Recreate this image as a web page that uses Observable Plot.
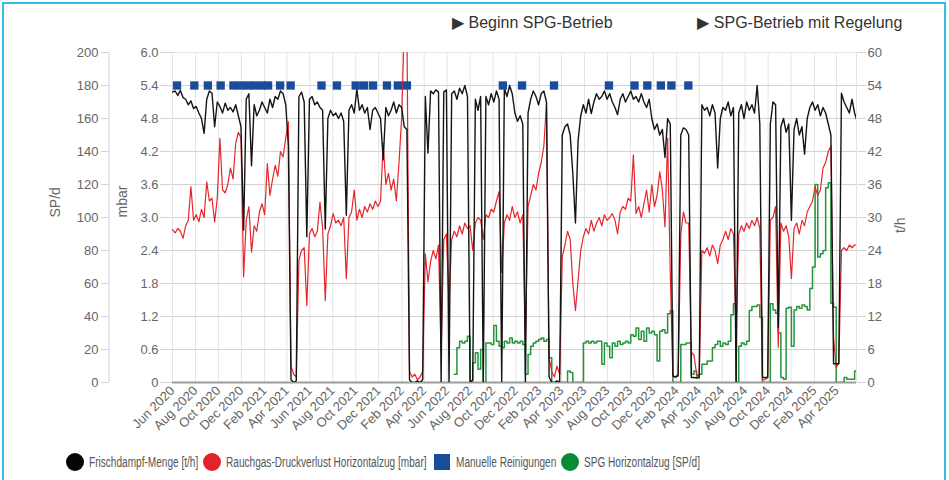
<!DOCTYPE html>
<html>
<head>
<meta charset="utf-8">
<script src="https://cdn.jsdelivr.net/npm/d3@7"></script>
<script src="https://cdn.jsdelivr.net/npm/@observablehq/plot@0.6"></script>
<style>
  html,body{margin:0;padding:0;background:#fff;}
  #wrap{position:relative;width:949px;height:480px;overflow:hidden;background:#fff;}
  #border{position:absolute;left:2px;top:2px;width:944px;height:540px;border:2px solid #36bde6;box-sizing:border-box;}
  #chart{position:absolute;left:0;top:0;}
  #legend{position:absolute;left:66px;top:452px;height:20px;display:flex;align-items:center;font-family:"Liberation Sans",Arial,sans-serif;font-size:14px;color:#555;white-space:nowrap;}
  .item{display:flex;align-items:center;margin-right:5px;}
  .sw{width:18px;height:18px;border-radius:50%;margin-right:5px;flex:none;}
  .sw.sq{width:16px;height:16px;border-radius:0;margin-left:2px;margin-right:6px;}
  .lt{display:inline-block;white-space:nowrap;overflow:visible;}
  .li{display:inline-block;transform-origin:0 50%;}
</style>
</head>
<body>
<div id="wrap"><div id="border"></div><div id="chart"></div><div id="legend"></div></div>
<script>
// ---------- data (weekly readings from 2020-06-01) ----------
const startDate = "2020-06-01";
const stepDays = 7;

// Frischdampf-Menge [t/h]
const frischdampf = [
  52.8, 53.0, 52.2, 53.1, 51.8, 51.5, 50.5, 51.2, 49.8, 50.2,
  49.0, 48.0, 45.3, 51.5, 53.0, 52.6, 46.5, 51.0, 50.2, 49.0,
  50.8, 49.5, 50.0, 49.2, 50.5, 48.5, 46.5, 27.7, 51.5, 52.5,
  39.4, 50.5, 48.5, 49.5, 51.0, 50.0, 49.0, 51.5, 50.0, 52.0,
  51.5, 53.0, 52.5, 50.5, 43.0, 0.5, 0, 0.3, 52.0, 52.8,
  51.0, 26.5, 51.5, 52.0, 50.5, 51.0, 50.0, 49.5, 27.9, 48.0,
  49.5, 48.5, 49.0, 48.0, 49.0, 47.5, 30.4, 49.5, 50.5, 49.0,
  53.3, 49.5, 50.5, 49.0, 50.0, 46.0, 49.5, 50.0, 49.0, 48.0,
  40.5, 50.0, 48.5, 49.5, 51.0, 49.0, 50.5, 50.0, 46.5, 46.0,
  0.5, 0, 0, 0.3, 0, 0.5, 52.0, 41.7, 53.0, 52.5,
  53.2, 52.8, 0, 52.8, 53.2, 0, 52.5, 53.0, 51.5, 53.5,
  52.5, 54.0, 52.0, 0, 0.5, 51.5, 49.5, 52.0, 0, 52.0,
  50.5, 52.5, 51.0, 53.0, 51.5, 0, 53.5, 52.0, 54.0, 52.5,
  49.0, 47.5, 48.5, 47.0, 0, 49.0, 51.5, 53.0, 52.0, 50.5,
  52.5, 53.0, 51.0, 1.0, 0, 0, 0.3, 0, 45.0, 46.5,
  47.0, 45.0, 38.0, 29.0, 44.0, 48.5, 50.5, 49.0, 51.5, 48.9,
  51.0, 52.5, 51.5, 52.0, 53.0, 51.5, 52.5, 51.0, 50.0, 48.7,
  51.5, 52.5, 51.0, 52.0, 53.0, 51.5, 52.0, 51.0, 52.5, 51.0,
  50.0, 51.5, 48.0, 46.0, 47.0, 45.0, 46.0, 40.9, 48.0, 47.0,
  1.2, 1.0, 1.2, 45.0, 46.3, 46.0, 45.0, 0.9, 0.9, 0.8,
  0.9, 50.5, 49.5, 50.0, 48.5, 50.5, 49.0, 39.0, 48.0, 50.0,
  49.5, 51.0, 48.5, 50.0, 0, 49.0, 50.5, 48.0, 51.0, 49.5,
  50.5, 49.0, 54.0, 47.0, 0.9, 0.9, 0.9, 47.0, 51.0, 50.5,
  10.0, 46.5, 48.0, 45.5, 47.0, 29.5, 46.0, 48.0, 45.0, 46.5,
  41.5, 48.0, 50.0, 51.0, 49.5, 50.5, 48.5, 50.0, 49.0, 47.0,
  45.0, 3.4, 3.4, 3.4, 52.6, 51.0, 50.0, 49.0, 51.5, 49.0,
  47.4
];

// Rauchgas-Druckverlust Horizontalzug [mbar]
const druckverlust = [
  2.78, 2.72, 2.80, 2.75, 2.62, 2.85, 2.95, 3.56, 2.95, 3.05,
  2.92, 3.15, 3.0, 3.65, 3.3, 3.35, 2.92, 3.35, 4.44, 3.5,
  3.45, 3.6, 3.9, 3.7, 4.35, 4.55, 4.45, 1.92, 2.95, 3.2,
  2.37, 2.85, 2.75, 3.1, 3.25, 3.05, 3.98, 3.4, 3.7, 3.95,
  3.75, 4.2, 4.1, 4.45, 4.74, 0.3, 0.15, 0.1, 2.22, 2.4,
  2.45, 1.4, 2.7, 2.8, 2.65, 2.75, 3.28, 2.8, 1.49, 2.7,
  2.85, 3.07, 2.9, 2.95, 2.85, 3.0, 1.89, 3.0, 3.1, 3.5,
  2.95, 3.15, 3.0, 3.2, 3.1, 3.25, 3.15, 3.3, 3.2, 3.3,
  4.35, 3.6, 3.8, 3.5, 3.7, 3.3, 4.0, 4.8, 6.5, 6.5,
  0.2, 0.1, 0.15, 0.05, 0.1, 0.2, 2.34, 1.83, 2.2, 2.4,
  2.25, 2.5, 0.55, 2.6, 2.7, 1.43, 2.6, 2.75, 2.65, 2.85,
  2.7, 2.9, 2.8, 2.85, 2.4, 2.9, 3.0, 2.95, 2.6, 3.05,
  3.0, 3.15, 3.1, 3.3, 3.47, 2.0, 2.9, 3.05, 2.95, 3.2,
  3.0, 3.1, 2.9, 3.05, 0.76, 3.2, 3.4, 3.6, 3.5, 3.8,
  4.0, 4.3, 5.08, 0.45, 0.2, 0.1, 0.3, 0.15, 2.28, 2.5,
  2.75, 2.6, 1.8, 1.31, 1.86, 2.4, 2.65, 2.8, 2.7, 2.95,
  2.75, 2.9, 3.0, 2.85, 3.05, 2.95, 3.0, 3.07, 2.95, 2.7,
  3.1, 3.2, 3.15, 3.35, 3.3, 4.14, 3.07, 3.2, 3.0, 3.25,
  3.5, 3.1, 3.6, 3.2, 3.4, 3.83, 3.5, 2.83, 4.44, 2.0,
  0.1, 0.1, 0.15, 2.7, 3.1, 2.9, 2.9, 0.55, 0.5, 0.15,
  0.1, 2.4, 2.35, 2.45, 2.3, 2.5, 2.4, 2.16, 2.5, 2.6,
  2.75, 2.6, 2.8, 2.7, 0.94, 2.7, 2.85, 2.75, 2.9, 2.8,
  2.95, 2.85, 3.0, 2.8, 0.05, 0.05, 0.1, 2.95, 3.0, 3.2,
  0.64, 2.9, 2.75, 2.85, 2.65, 1.89, 2.8, 2.9, 2.7, 2.95,
  2.85, 3.1, 3.2, 3.3, 3.56, 3.4, 3.5, 3.9, 4.0, 4.2,
  4.3, 0.82, 0.27, 0.35, 2.4, 2.45, 2.4, 2.5, 2.45, 2.5,
  2.5
];

// SPG Horizontalzug [SP/d], from week 107 onwards
const spgStartWeek = 107;
const spg = [
  5, 21, 25,
  24, 25, 28, 0, 12, 18, 8, 20, 0, 24,
  24, 23, 34.5, 25, 22, 21, 25, 24, 27, 24,
  25, 24, 25, 23, 5, 17, 22, 24, 25, 26,
  27, 25, 26, 15, 0, 0, 0, 0, 0, 0,
  7, 6, 0, 0, 0, 0, 24, 25, 24, 25,
  24, 25, 25, 11, 24, 22, 15, 24, 22, 25,
  23, 24, 25, 24, 29, 28, 33, 26, 31, 25,
  33, 30, 31, 29, 13, 31, 32, 30, 41.6, 43.6,
  0, 0, 0, 23, 23, 24, 24, 5, 7, 3,
  5, 11, 11, 13, 13, 21, 23, 25, 22, 24,
  23, 25, 41, 47.7, 0, 22, 24, 23, 25, 43.6,
  46, 46, 47, 39.5, 0, 0, 0, 47.7, 44, 42,
  30, 3, 2, 45, 45.6, 22, 44, 46, 45, 47,
  46, 44, 57, 70, 120, 76, 78, 80, 118, 121,
  48, 45.6, 0, 0, 0, 3, 2, 2, 2, 7,
  7
];

// Manuelle Reinigungen (dates), drawn at the 180 SP/d level
const reinigungLevel = 180;
const reinigungen = [
  "2020-06-13","2020-07-29","2020-09-03","2020-10-07","2020-11-10","2020-11-29",
  "2020-12-18","2021-01-05","2021-01-24","2021-02-10","2021-03-14","2021-04-11",
  "2021-07-02","2021-08-12","2021-10-01","2021-10-23","2021-11-16","2021-12-23",
  "2022-01-21","2022-02-14","2022-10-27","2022-12-17","2023-03-12","2023-08-05",
  "2023-10-12","2023-11-15","2023-12-21","2024-01-18","2024-03-03"
];

const annotations = [
  {date: "2022-06-14", label: "▶ Beginn SPG-Betrieb"},
  {date: "2024-03-27", label: "▶ SPG-Betrieb mit Regelung"}
];

// axes
const mbarTicks  = [0, 0.6, 1.2, 1.8, 2.4, 3.0, 3.6, 4.2, 4.8, 5.4, 6.0];
const mbarLabels = ["0","0.6","1.2","1.8","2.4","3.0","3.6","4.2","4.8","5.4","6.0"];
const spdLabels  = ["0","20","40","60","80","100","120","140","160","180","200"];
const thLabels   = ["0","6","12","18","24","30","36","42","48","54","60"];
const monthTicks = [
  "2020-06-01","2020-08-01","2020-10-01","2020-12-01","2021-02-01","2021-04-01",
  "2021-06-01","2021-08-01","2021-10-01","2021-12-01","2022-02-01","2022-04-01",
  "2022-06-01","2022-08-01","2022-10-01","2022-12-01","2023-02-01","2023-04-01",
  "2023-06-01","2023-08-01","2023-10-01","2023-12-01","2024-02-01","2024-04-01",
  "2024-06-01","2024-08-01","2024-10-01","2024-12-01","2025-02-01","2025-04-01"
];
const xDomain = ["2020-06-01", "2025-05-24"];

const legendItems = [
  {label: "Frischdampf-Menge [t/h]", color: "#050505", shape: "circle"},
  {label: "Rauchgas-Druckverlust Horizontalzug [mbar]", color: "#e3232a", shape: "circle"},
  {label: "Manuelle Reinigungen", color: "#1b4c9c", shape: "square"},
  {label: "SPG Horizontalzug [SP/d]", color: "#0b8a35", shape: "circle"}
];

// ---------- build ----------
const DAY = 864e5;
const t0 = new Date(startDate).getTime();
const rows = frischdampf.map((v, i) => ({date: new Date(t0 + i * stepDays * DAY), th: v, mbar: druckverlust[i]}));
const greenRows = spg.map((v, i) => ({date: new Date(t0 + (spgStartWeek + i) * stepDays * DAY), spd: v}));
const MBAR_PER_TH = 6 / 60, MBAR_PER_SPD = 6 / 200;
const xTickDates = monthTicks.map(d => new Date(d));
const lab = arr => d => arr[mbarTicks.indexOf(d)];
const FONT = '"Liberation Sans", Arial, sans-serif';

const chart = Plot.plot({
  width: 949, height: 445,
  marginLeft: 172, marginRight: 93, marginTop: 52, marginBottom: 63,
  style: {fontFamily: FONT, fontSize: "13px", color: "#666", background: "transparent", overflow: "visible"},
  x: {type: "utc", domain: xDomain.map(d => new Date(d))},
  y: {domain: [0, 6]},
  marks: [
    Plot.gridX(xTickDates, {stroke: "#e4e4e4", strokeOpacity: 1}),
    Plot.gridY(mbarTicks, {stroke: "#d3d3d3", strokeOpacity: 1}),
    Plot.frame({stroke: "#e4e4e4"}),
    Plot.ruleY([0], {stroke: "#9c9c9c", strokeWidth: 2}),
    Plot.axisY(mbarTicks, {anchor: "left", tickSize: 12, tickPadding: 2, stroke: "#d3d3d3", fill: "#666", fontSize: 13, tickFormat: lab(mbarLabels), label: null}),
    Plot.axisY(mbarTicks, {anchor: "left", dx: -63, tickSize: 8, tickPadding: 3, stroke: "#d3d3d3", fill: "#666", fontSize: 13, tickFormat: lab(spdLabels), label: null}),
    Plot.axisY(mbarTicks, {anchor: "right", tickSize: 9, tickPadding: 2, stroke: "#d3d3d3", fill: "#666", fontSize: 13, tickFormat: lab(thLabels), label: null}),
    Plot.axisX(xTickDates, {anchor: "bottom", tickSize: 0, tickPadding: 6, tickRotate: -45, tickFormat: "%b %Y", fill: "#666", fontSize: 13, label: null}),
    Plot.text(["SP/d"], {frameAnchor: "left", dx: -117, rotate: -90, fontSize: 14, fill: "#666"}),
    Plot.text(["mbar"], {frameAnchor: "left", dx: -50, rotate: -90, fontSize: 14, fill: "#666"}),
    Plot.text(["t/h"], {frameAnchor: "right", dx: 44, rotate: -90, fontSize: 14, fill: "#666"}),
    Plot.line(greenRows, {x: "date", y: d => d.spd * MBAR_PER_SPD, stroke: "#22963a", strokeWidth: 1.5, curve: "step-after", clip: true}),
    Plot.line(rows, {x: "date", y: "mbar", stroke: "#e6262c", strokeWidth: 1.2, clip: true}),
    Plot.line(rows, {x: "date", y: d => d.th * MBAR_PER_TH, stroke: "#141414", strokeWidth: 1.4, clip: true}),
    Plot.dot(reinigungen, {x: d => new Date(d), y: () => reinigungLevel * MBAR_PER_SPD, symbol: "square", r: 4.7, fill: "#1b4c9c"}),
    Plot.text(annotations, {x: d => new Date(d.date), text: "label", frameAnchor: "top", dy: -36, textAnchor: "start", fontSize: 16, fill: "#333"})
  ]
});

// SP/d axis line
const yr = chart.scale("y").range;
d3.select(chart).append("line")
  .attr("x1", 172 - 63).attr("x2", 172 - 63)
  .attr("y1", Math.min(...yr)).attr("y2", Math.max(...yr))
  .attr("stroke", "#d3d3d3");

document.getElementById("chart").appendChild(chart);

// legend (condensed text to match the narrow legend font)
const SX = 0.72;
const legend = d3.select("#legend");
legendItems.forEach(it => {
  const item = legend.append("div").attr("class", "item");
  item.append("div").attr("class", "sw" + (it.shape === "square" ? " sq" : "")).style("background", it.color);
  const box = item.append("span").attr("class", "lt");
  const inner = box.append("span").attr("class", "li").text(it.label);
  const w = inner.node().getBoundingClientRect().width;
  box.style("width", (w * SX) + "px");
  inner.style("transform", `scaleX(${SX})`);
});
</script>
</body>
</html>
